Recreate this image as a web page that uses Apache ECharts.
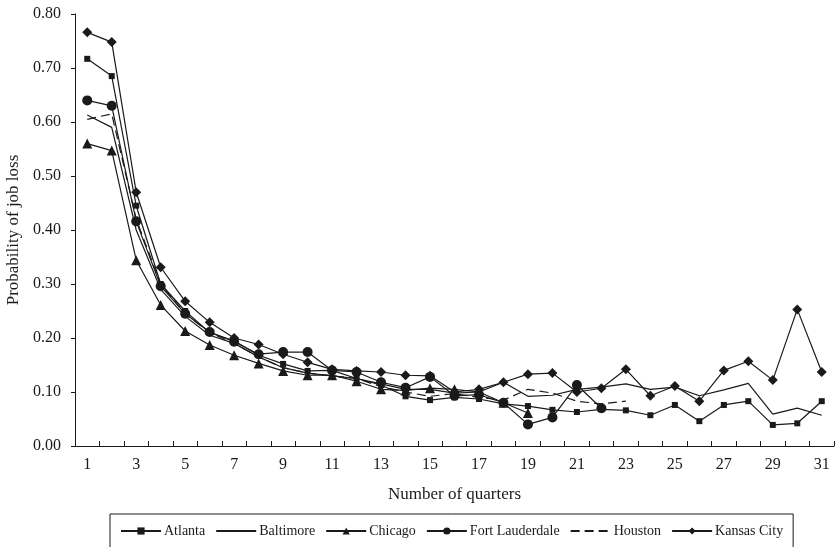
<!DOCTYPE html>
<html><head><meta charset="utf-8">
<script src="https://cdn.jsdelivr.net/npm/echarts@6/dist/echarts.min.js"></script>
<style>html,body{margin:0;padding:0;background:#fff}#c{width:836px;height:547px}</style>
</head><body><div id="c"></div>
<script>
const categories = ['1','2','3','4','5','6','7','8','9','10','11','12','13','14','15','16','17','18','19','20','21','22','23','24','25','26','27','28','29','30','31'];
const atlanta = [0.717,0.685,0.445,0.300,0.250,0.210,0.195,0.168,0.152,0.139,0.140,0.125,0.113,0.092,0.085,0.090,0.087,0.078,0.074,0.067,0.063,0.068,0.066,0.057,0.076,0.046,0.076,0.083,0.039,0.042,0.083];
const baltimore = [0.613,0.590,0.400,0.290,0.240,0.205,0.190,0.165,0.145,0.135,0.130,0.125,0.115,0.105,0.105,0.098,0.100,0.118,0.092,0.094,0.105,0.109,0.115,0.105,0.109,0.093,0.104,0.116,0.059,0.070,0.057];
const chicago = [0.560,0.547,0.344,0.261,0.213,0.187,0.168,0.153,0.139,0.131,0.131,0.120,0.105,0.103,0.107,0.105,0.100,0.080,0.061];
const fortLauderdale = [0.640,0.630,0.416,0.296,0.245,0.211,0.193,0.170,0.174,0.174,0.140,0.137,0.118,0.108,0.128,0.093,0.095,0.080,0.040,0.053,0.113,0.070];
const houston = [0.605,0.615,0.420,0.300,0.245,0.210,0.190,0.165,0.145,0.135,0.130,0.125,0.110,0.100,0.092,0.097,0.090,0.085,0.105,0.098,0.083,0.078,0.083];
const kansasCity = [0.766,0.748,0.470,0.331,0.268,0.229,0.200,0.188,0.170,0.155,0.142,0.139,0.137,0.131,0.130,0.100,0.105,0.118,0.133,0.135,0.100,0.107,0.142,0.093,0.111,0.083,0.140,0.157,0.122,0.253,0.137];
const yTicks = ['0.00','0.10','0.20','0.30','0.40','0.50','0.60','0.70','0.80'];

const F = 'Liberation Serif';
const ink = '#1a1a1a';
function mk(name, data, symbol, size, dash) {
  const noMark = symbol === 'none';
  return {
    name, type: 'line', data, symbol, symbolSize: size, showSymbol: !noMark,
    lineStyle: { color: ink, width: 1.2, type: dash ? [9, 5] : 'solid' },
    itemStyle: noMark ? { color: 'rgba(0,0,0,0)', borderWidth: 0, borderColor: 'rgba(0,0,0,0)' } : { color: ink },
    emphasis: { disabled: true }, animation: false
  };
}
const chart = echarts.init(document.getElementById('c'));
chart.setOption({
  animation: false,
  textStyle: { fontFamily: F, color: ink },
  grid: { left: 75, right: 2, top: 14, bottom: 101, containLabel: false, outerBoundsMode: 'none' },
  legend: {
    left: 110, top: 514, width: 680,
    padding: [10, 10, 40, 10],
    borderColor: ink, borderWidth: 1,
    itemWidth: 40, itemHeight: 9, itemGap: 10,
    textStyle: { fontFamily: F, fontSize: 14, color: ink, padding: [0, 0, 0, -2] },
    data: ['Atlanta','Baltimore','Chicago','Fort Lauderdale','Houston','Kansas City']
  },
  xAxis: {
    type: 'category', data: categories, boundaryGap: true,
    name: 'Number of quarters', nameLocation: 'middle', nameGap: 40,
    nameTextStyle: { fontFamily: F, fontSize: 17, color: ink },
    axisLine: { lineStyle: { color: ink, width: 1 } },
    axisTick: { show: true, interval: 0, inside: true, length: 5, lineStyle: { color: ink } },
    axisLabel: { interval: 1, fontFamily: F, fontSize: 16, color: ink, margin: 11 },
    splitLine: { show: false }
  },
  yAxis: {
    type: 'value', min: 0, max: 0.8, interval: 0.1,
    name: 'Probability of job loss', nameLocation: 'middle', nameGap: 51,
    nameTextStyle: { fontFamily: F, fontSize: 17, color: ink },
    axisLine: { show: true, lineStyle: { color: ink, width: 1 } },
    axisTick: { show: true, length: 4, lineStyle: { color: ink } },
    axisLabel: { fontFamily: F, fontSize: 16, color: ink, margin: 14,
      formatter: v => yTicks[Math.round(v * 10)] },
    splitLine: { show: false }
  },
  series: [
    mk('Atlanta', atlanta, 'rect', 6, false),
    mk('Baltimore', baltimore, 'none', 0, false),
    mk('Chicago', chicago, 'triangle', 10, false),
    mk('Fort Lauderdale', fortLauderdale, 'circle', 10, false),
    mk('Houston', houston, 'none', 0, true),
    mk('Kansas City', kansasCity, 'diamond', 10, false)
  ]
});
</script></body></html>
